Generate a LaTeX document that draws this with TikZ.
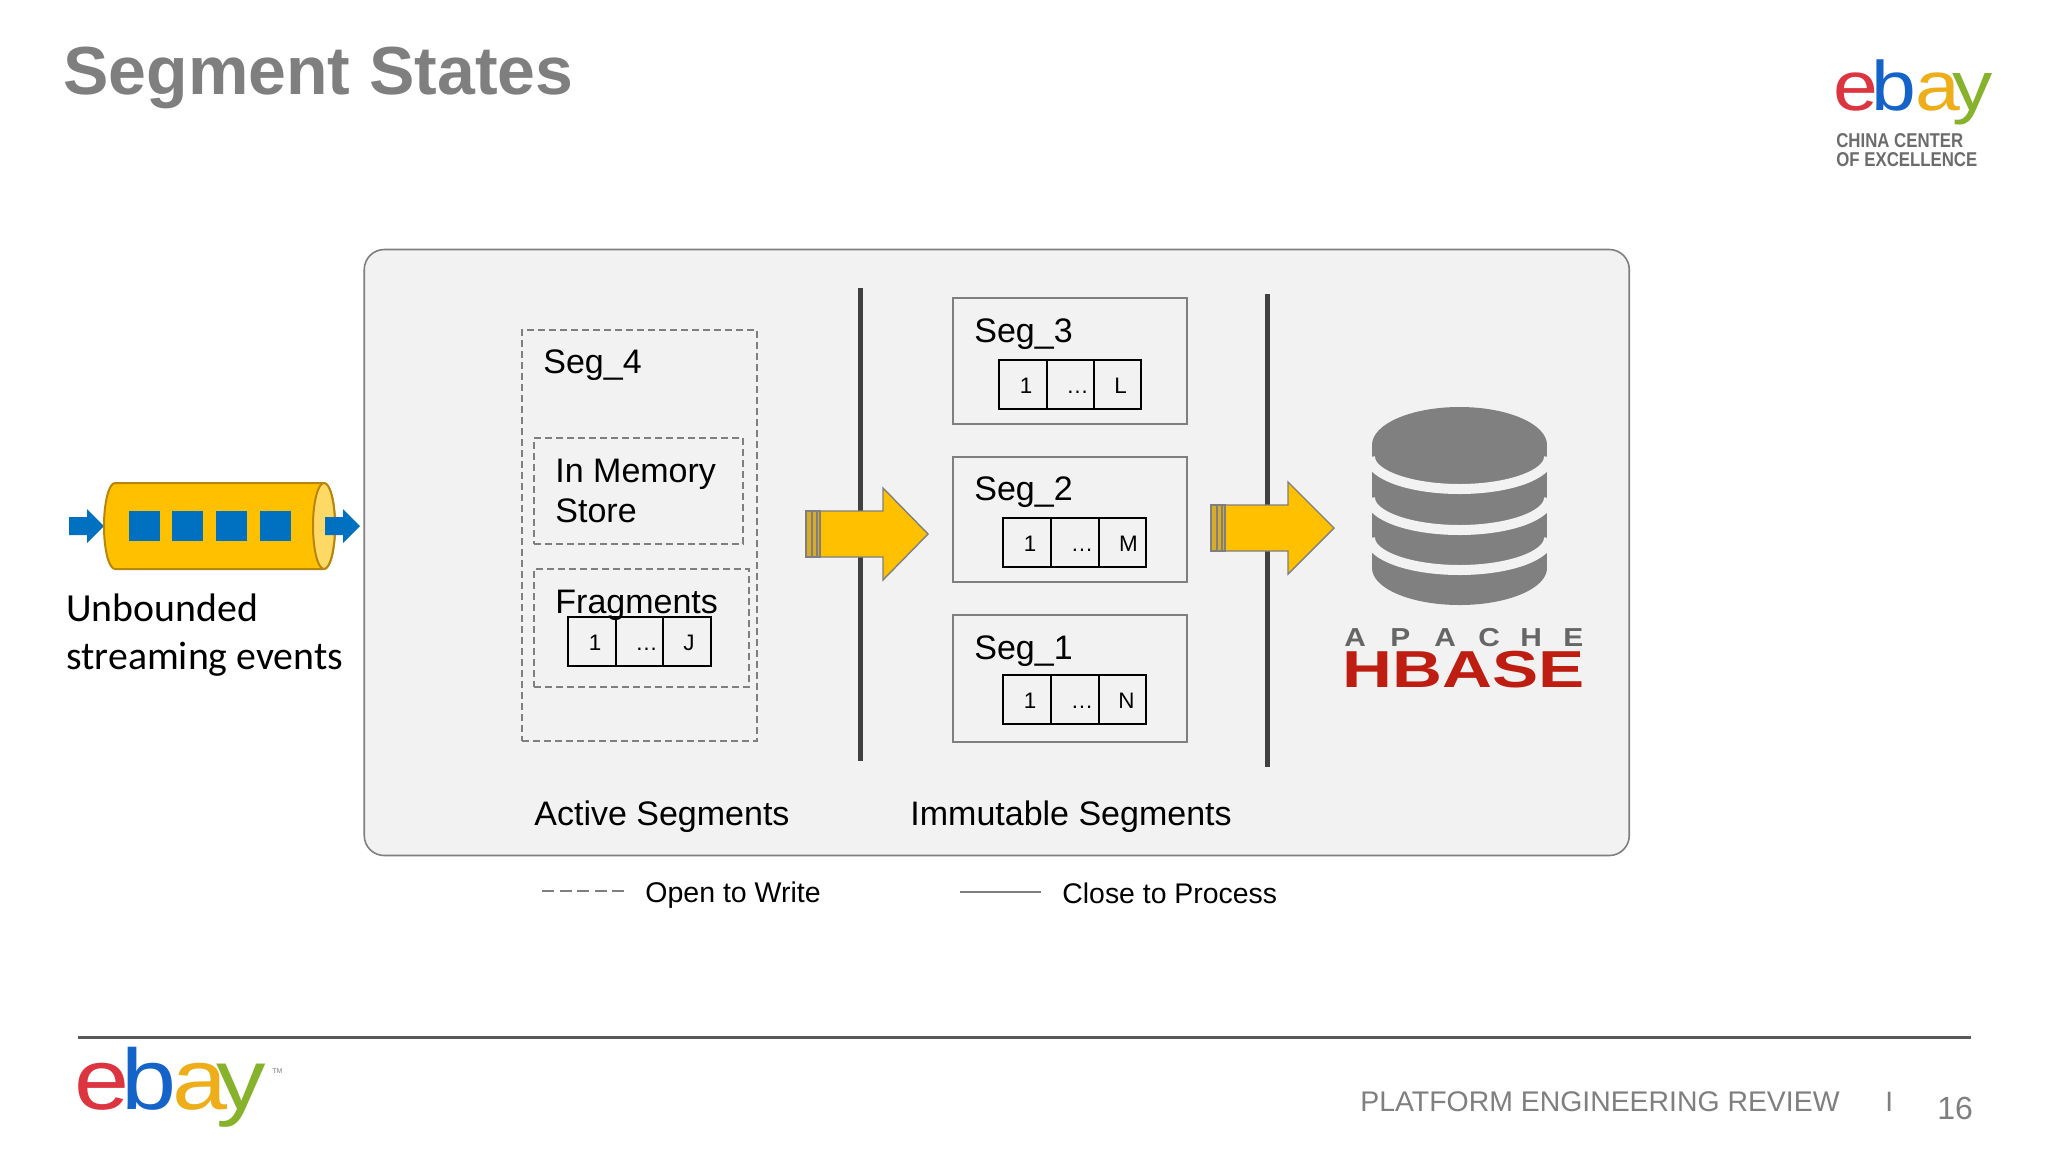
\documentclass[tikz,border=0pt]{standalone}
\usepackage{fontspec}
\setmainfont{Liberation Sans}
\newfontfamily\calibrifont{Carlito}
\definecolor{panelfill}{HTML}{F2F2F2}
\definecolor{edgegray}{HTML}{7F7F7F}
\definecolor{titlegray}{HTML}{7F7F7F}
\definecolor{barcol}{HTML}{404040}
\definecolor{amber}{HTML}{FFC000}
\definecolor{amberedge}{HTML}{B8860B}
\definecolor{amberlight}{HTML}{FFD966}
\definecolor{bluecol}{HTML}{0070C0}
\definecolor{dbgray}{HTML}{808080}
\definecolor{hbred}{HTML}{BE1E12}
\definecolor{ered}{HTML}{DD3540}
\definecolor{bblue}{HTML}{1463C8}
\definecolor{ayellow}{HTML}{EDAE1A}
\definecolor{ygreen}{HTML}{86B22C}
\newcommand\fs[1]{\fontsize{#1}{#1}\selectfont}
\tikzset{
  x=0.5pt,y=-0.5pt,
  lbl/.style={inner sep=0,anchor=base west,text=black},
  cellbox/.style={draw=black,line width=1.4pt,fill=none},
  opaquebox/.style={draw=edgegray,line width=1.35pt},
  dashbox/.style={draw=edgegray,line width=1.3pt,dash pattern=on 3.5pt off 2pt},
  celltxt/.style={inner sep=0,anchor=base,text=black,font=\fs{11.2}},
  blockarrow/.style={fill=amber,draw=edgegray,line width=0.7pt,line join=miter},
  bluearrow/.style={fill=bluecol,draw=none},
  bar/.style={draw=barcol,line width=2.5pt},
}
\newcommand\rbox[6]{%
  \pgfmathsetmacro\rw{(#5-#3)*0.5}\pgfmathsetmacro\rh{(#6-#4)*0.5}%
  \node[#2,rectangle,inner sep=0,outer sep=0,minimum width=\rw pt,minimum height=\rh pt] (#1) at ({(#3+#5)/2},{(#4+#6)/2}) {};}
% name, x0,x1,x2,x3, y0,y1, label, label shift
\newcommand\cellrow[9]{%
  \rbox{#1a}{cellbox}{#2}{#6}{#3}{#7}%
  \rbox{#1b}{cellbox}{#3}{#6}{#4}{#7}%
  \rbox{#1c}{cellbox}{#4}{#6}{#5}{#7}%
  \node[celltxt] (#1ta) at ({(#2+#3)/2+3},{#6+33}) {1};
  \node[celltxt] (#1tb) at ({(#3+#4)/2+7},{#6+33}) {…};
  \node[celltxt] (#1tc) at ({(#4+#5)/2+#9},{#6+33}) {#8};}
% name, x-left, centre y, x-headstart, x-tip
\newcommand\yarrow[5]{%
  \path[blockarrow] (#2+14,#3-23) -- (#4,#3-23) -- (#4,#3-46) -- (#5,#3) -- (#4,#3+46) -- (#4,#3+23) -- (#2+14,#3+23) -- cycle;
  \path[fill=amber!70!edgegray,draw=edgegray,line width=0.7pt] (#2,#3-23) rectangle (#2+6,#3+23);
  \path[fill=amber!70!edgegray,draw=edgegray,line width=0.7pt] (#2+6,#3-23) rectangle (#2+11,#3+23);
  \path[fill=amber!70!edgegray,draw=edgegray,line width=0.7pt] (#2+11,#3-23) rectangle (#2+14,#3+23);
  \coordinate (#1) at (#5,#3);}
\newcommand\barrow[3]{%
  \path[bluearrow] (#1,#2-9) -- (#1+18,#2-9) -- (#1+18,#2-17) -- (#1+35,#2) -- (#1+18,#2+17) -- (#1+18,#2+9) -- (#1,#2+9) -- cycle;}
\begin{document}
\begin{tikzpicture}
\useasboundingbox (0,0) rectangle (2048,1152);
\fill[white] (0,0) rectangle (2048,1152);

% title
\node[lbl,text=titlegray,font=\fs{34}\bfseries] (title) at (63,94) {Segment States};

% top-right logo
\node[inner sep=0,anchor=base west,text=ered,font=\fs{35},xscale=1.15] (lge) at (1833,110) {e};
\node[inner sep=0,anchor=base west,text=bblue,font=\fs{35},xscale=1.15] (lgb) at (1871,110) {b};
\node[inner sep=0,anchor=base west,text=ayellow,font=\fs{35},xscale=1.15] (lga) at (1915,110) {a};
\node[inner sep=0,anchor=base west,text=ygreen,font=\fs{35},xscale=1.15] (lgy) at (1952,110) {y};
\node[lbl,text=edgegray!85!black,font=\fs{10}\bfseries,xscale=0.84] (coe1) at (1836,147) {CHINA CENTER};
\node[lbl,text=edgegray!85!black,font=\fs{10}\bfseries,xscale=0.84] (coe2) at (1836,166) {OF EXCELLENCE};

% queue
\barrow{69}{526}{la}
\path[fill=amber,draw=amberedge,line width=1pt] (324,483) -- (115,483) arc[start angle=270,end angle=90,x radius=11,y radius=43] -- (324,569) arc[start angle=90,end angle=-90,x radius=11,y radius=43] -- cycle;
\path[fill=amberlight,draw=amberedge,line width=1pt] (324,526) ellipse[x radius=11,y radius=43];
\foreach \qx in {129,172,216,260}{\fill[bluecol] (\qx,511) rectangle (\qx+31,541);}
\barrow{325}{526}{ra}
\node[lbl,font=\calibrifont\fs{19.9}] (ub1) at (66,621) {Unbounded};
\node[lbl,font=\calibrifont\fs{19.9}] (ub2) at (66,669) {streaming events};

% panel
\node[draw=edgegray,line width=0.8pt,fill=panelfill,rectangle,rounded corners=10pt,inner sep=0,outer sep=0,minimum width=632.5pt,minimum height=303pt] (panel) at (996.75,552.5) {};

% active segment
\rbox{seg4}{dashbox}{522}{330}{757}{741}
\rbox{mem}{dashbox}{534}{438}{743}{544}
\rbox{frag}{dashbox}{534}{569}{749}{687}
\node[lbl,font=\fs{17}] (s4) at (543,373) {Seg\_4};
\node[lbl,font=\fs{17}] (m1) at (555,482) {In Memory};
\node[lbl,font=\fs{17}] (m2) at (555,522) {Store};
\node[lbl,font=\fs{17}] (fr) at (555,613) {Fragments};
\cellrow{j}{568}{616}{663}{711}{617}{666}{J}{2}

% separators
\coordinate (b1t) at (860,288); \coordinate (b1b) at (860,761);
\coordinate (b2t) at (1267,294); \coordinate (b2b) at (1267,767);
\draw[bar] (b1t) -- (b1b);
\draw[bar] (b2t) -- (b2b);

% immutable
\rbox{seg3}{opaquebox}{953}{298}{1187}{424}
\rbox{seg2}{opaquebox}{953}{457}{1187}{582}
\rbox{seg1}{opaquebox}{953}{615}{1187}{742}
\node[lbl,font=\fs{17}] (s3) at (974,342) {Seg\_3};
\node[lbl,font=\fs{17}] (s2) at (974,500) {Seg\_2};
\node[lbl,font=\fs{17}] (s1) at (974,659) {Seg\_1};
\cellrow{l}{999}{1047}{1094}{1141}{360}{409}{L}{3}
\cellrow{m}{1003}{1051}{1099}{1146}{518}{567}{M}{6}
\cellrow{n}{1003}{1051}{1099}{1146}{675}{724}{N}{4}

% block arrows
\yarrow{ar1}{806}{534}{883}{928}
\yarrow{ar2}{1211}{528}{1288}{1334}

% database
\fill[dbgray] (1372,445) rectangle (1547,568);
\fill[dbgray] (1459.5,445) ellipse[x radius=87.5,y radius=38];
\fill[dbgray] (1459.5,568) ellipse[x radius=87.5,y radius=37];
\foreach \dy in {457,498,538}{\draw[panelfill,line width=5pt] (1370,\dy) arc[start angle=180,end angle=0,x radius=89.5,y radius=32];}

% hbase logo
\foreach \lx/\ch/\nm in {1344/A/ha,1390/P/hb,1434/A/hc,1478/C/hd,1520/H/he,1563/E/hf}{
  \node[inner sep=0,anchor=base west,text=black!60,font=\fs{13}\bfseries,xscale=1.15] (\nm) at (\lx,646) {\ch};}
\node[inner sep=0,anchor=base west,text=hbred,font=\fs{26}\bfseries,xscale=1.33] (hbase) at (1342,687) {HBASE};

% captions
\node[lbl,font=\fs{17}] (act) at (534,825) {Active Segments};
\node[lbl,font=\fs{17}] (imm) at (910,825) {Immutable Segments};

% legend
\coordinate (lg1a) at (542,891); \coordinate (lg1b) at (626,891);
\coordinate (lg2a) at (960,892); \coordinate (lg2b) at (1041,892);
\draw[edgegray,line width=1.2pt,dash pattern=on 6pt off 2.8pt] (lg1a) -- (lg1b);
\draw[edgegray,line width=1.2pt] (lg2a) -- (lg2b);
\node[lbl,font=\fs{14.25}] (open) at (645,902) {Open to Write};
\node[lbl,font=\fs{14.2}] (close) at (1062,903) {Close to Process};

% footer
\coordinate (fa) at (78,1037); \coordinate (fb) at (1971,1037);
\draw[black!65,line width=1.5pt] (fa) -- (fb);
\node[inner sep=0,anchor=base west,text=ered,font=\fs{43},xscale=1.15] (fte) at (74,1109) {e};
\node[inner sep=0,anchor=base west,text=bblue,font=\fs{43},xscale=1.15] (ftb) at (121,1109) {b};
\node[inner sep=0,anchor=base west,text=ayellow,font=\fs{43},xscale=1.15] (fta) at (172,1109) {a};
\node[inner sep=0,anchor=base west,text=ygreen,font=\fs{43},xscale=1.15] (fty) at (216,1109) {y};
\node[lbl,text=black!50,font=\fs{3.5}] (tm) at (272,1073) {TM};
\node[lbl,text=edgegray,font=\fs{14.2}] (rev) at (1360,1111) {PLATFORM ENGINEERING REVIEW};
\node[lbl,text=edgegray,font=\fs{14}] (sep) at (1885,1111) {I};
\node[lbl,text=edgegray,font=\fs{16}] (pg) at (1937,1119) {16};
\end{tikzpicture}
\end{document}
